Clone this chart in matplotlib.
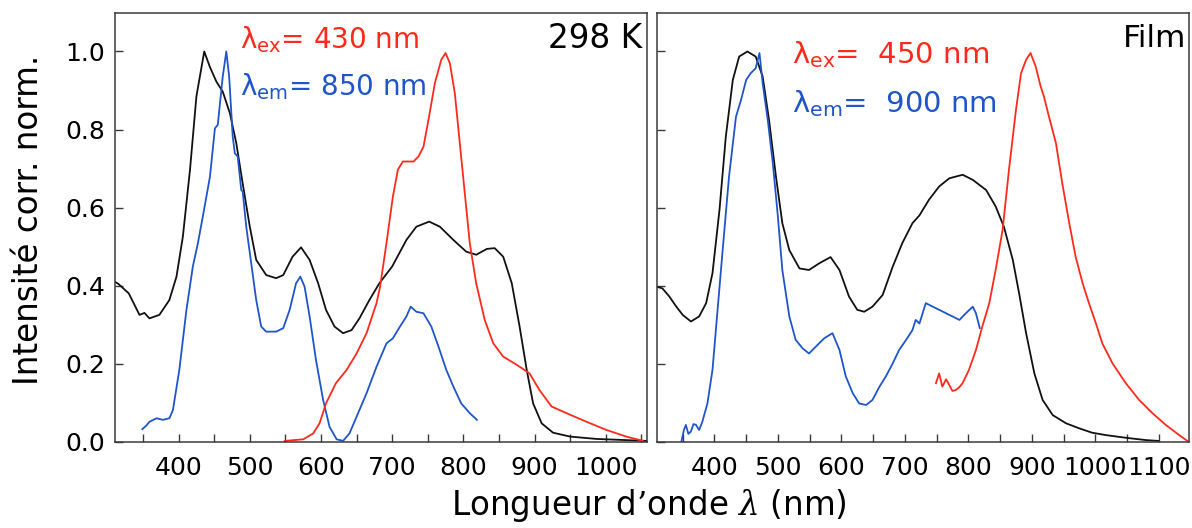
import matplotlib
matplotlib.use('Agg')
import matplotlib.pyplot as plt
from matplotlib.ticker import MultipleLocator, FormatStrFormatter

# ---- 298 K (left panel) ----
left_black_wl = [310, 315, 330, 345, 352, 359, 373, 387, 397, 406, 416, 425, 436, 444, 453,
                 462, 472, 481, 490, 500, 509, 523, 537, 547, 560, 572, 584, 596, 607, 619,
                 631, 643, 654, 668, 682, 700, 720, 734, 752, 767, 786, 804, 818, 833, 844,
                 856, 868, 879, 889, 898, 910, 926, 950, 987, 1057]
left_black_int = [0.41, 0.405, 0.38, 0.325, 0.33, 0.316, 0.325, 0.363, 0.423, 0.526, 0.697,
                  0.885, 1.0, 0.96, 0.923, 0.897, 0.842, 0.765, 0.662, 0.551, 0.466, 0.427,
                  0.419, 0.427, 0.474, 0.498, 0.466, 0.406, 0.338, 0.295, 0.278, 0.286, 0.316,
                  0.363, 0.406, 0.449, 0.517, 0.551, 0.564, 0.551, 0.517, 0.487, 0.479, 0.494,
                  0.496, 0.474, 0.406, 0.295, 0.184, 0.098, 0.047, 0.023, 0.013, 0.007, 0.002]

left_blue_wl = [349, 355, 359, 369, 378, 387, 392, 401, 411, 420, 427, 434, 444, 451, 455,
                462, 467, 471, 476, 479, 483, 488, 490, 495, 502, 509, 516, 523, 537, 547,
                556, 565, 571, 577, 584, 593, 603, 612, 622, 631, 640, 650, 664, 678, 692,
                701, 711, 720, 726, 734, 744, 755, 765, 776, 786, 797, 809, 819]
left_blue_int = [0.032, 0.042, 0.051, 0.06, 0.056, 0.06, 0.081, 0.184, 0.338, 0.449, 0.508,
                 0.577, 0.679, 0.803, 0.812, 0.936, 1.0, 0.936, 0.782, 0.739, 0.731, 0.645,
                 0.641, 0.551, 0.457, 0.363, 0.295, 0.282, 0.282, 0.291, 0.338, 0.406, 0.423,
                 0.397, 0.321, 0.209, 0.107, 0.038, 0.006, 0.002, 0.021, 0.064, 0.124, 0.192,
                 0.252, 0.265, 0.295, 0.321, 0.346, 0.333, 0.329, 0.295, 0.244, 0.184, 0.141,
                 0.098, 0.073, 0.056]

left_red_wl = [549, 575, 589, 598, 607, 621, 636, 650, 664, 678, 683, 692, 701, 708, 715,
               730, 737, 744, 751, 760, 769, 775, 781, 788, 795, 802, 809, 818, 830, 842,
               856, 875, 893, 907, 924, 945, 973, 1001, 1029, 1052]
left_red_int = [0.002, 0.006, 0.021, 0.047, 0.098, 0.15, 0.184, 0.226, 0.278, 0.355, 0.397,
                0.509, 0.628, 0.697, 0.718, 0.718, 0.731, 0.756, 0.825, 0.919, 0.979, 0.996,
                0.97, 0.893, 0.765, 0.637, 0.509, 0.406, 0.312, 0.252, 0.218, 0.197, 0.175,
                0.132, 0.09, 0.073, 0.051, 0.03, 0.013, 0.002]

# ---- Film (right panel) ----
right_black_wl = [309, 318, 329, 340, 350, 363, 376, 387, 397, 408, 418, 429, 439, 452, 465,
                  476, 486, 497, 507, 518, 534, 549, 565, 583, 597, 612, 625, 636, 649, 665,
                  681, 696, 712, 723, 738, 754, 770, 791, 807, 828, 843, 856, 870, 880, 891,
                  904, 917, 933, 954, 975, 995, 1016, 1048, 1080, 1099]
right_black_int = [0.397, 0.393, 0.372, 0.346, 0.325, 0.308, 0.321, 0.355, 0.432, 0.594,
                   0.782, 0.927, 0.987, 1.0, 0.987, 0.936, 0.825, 0.679, 0.56, 0.491, 0.444,
                   0.44, 0.457, 0.473, 0.44, 0.372, 0.338, 0.333, 0.346, 0.376, 0.449, 0.509,
                   0.56, 0.58, 0.62, 0.654, 0.675, 0.684, 0.671, 0.645, 0.603, 0.551, 0.466,
                   0.38, 0.278, 0.175, 0.107, 0.068, 0.047, 0.034, 0.023, 0.017, 0.01, 0.004,
                   0.002]

right_blue_wl = [348, 352, 355, 359, 363, 367, 371, 376, 381, 389, 397, 405, 413, 423, 434,
                 442, 450, 457, 465, 471, 476, 484, 492, 500, 507, 518, 528, 539, 549, 560,
                 573, 586, 597, 607, 618, 628, 639, 649, 660, 670, 681, 691, 702, 712, 717,
                 723, 733, 744, 754, 765, 775, 786, 796, 807, 812, 818]
right_blue_int = [0.0, 0.03, 0.043, 0.02, 0.026, 0.045, 0.043, 0.03, 0.051, 0.098, 0.184,
                  0.338, 0.491, 0.679, 0.833, 0.876, 0.927, 0.944, 0.957, 0.996, 0.919, 0.825,
                  0.714, 0.577, 0.44, 0.321, 0.261, 0.239, 0.226, 0.244, 0.265, 0.278, 0.235,
                  0.167, 0.124, 0.098, 0.094, 0.107, 0.141, 0.167, 0.201, 0.235, 0.261, 0.286,
                  0.312, 0.303, 0.355, 0.346, 0.338, 0.329, 0.321, 0.312, 0.329, 0.346, 0.329,
                  0.291]

right_red_wl = [749, 754, 759, 765, 770, 775, 780, 786, 791, 801, 812, 822, 833, 843, 854,
                864, 875, 883, 891, 898, 906, 914, 919, 927, 938, 948, 959, 969, 980, 990,
                1001, 1011, 1027, 1048, 1069, 1090, 1111, 1132, 1145]
right_red_int = [0.15, 0.175, 0.141, 0.16, 0.145, 0.13, 0.132, 0.14, 0.15, 0.184, 0.235,
                 0.295, 0.355, 0.44, 0.543, 0.697, 0.85, 0.944, 0.979, 0.996, 0.962, 0.91,
                 0.885, 0.833, 0.765, 0.662, 0.56, 0.474, 0.406, 0.355, 0.303, 0.252, 0.201,
                 0.15, 0.107, 0.073, 0.043, 0.017, 0.002]

RED = '#ff2a1c'
BLUE = '#1f55c9'
SPINE = '#3a3a3a'

fig = plt.figure(figsize=(11.92, 5.28), dpi=100)
ax1 = fig.add_axes([0.0961, 0.1635, 0.4467, 0.8114])
ax2 = fig.add_axes([0.5514, 0.1635, 0.4463, 0.8114])


def style(ax, xlim, show_ylabels):
    ax.set_xlim(*xlim)
    ax.set_ylim(0, 1.098)
    ax.xaxis.set_major_locator(MultipleLocator(100))
    ax.xaxis.set_minor_locator(MultipleLocator(50))
    ax.yaxis.set_major_locator(MultipleLocator(0.2))
    ax.yaxis.set_major_formatter(FormatStrFormatter('%.1f'))
    ax.tick_params(which='both', direction='in', length=6, width=1, color=SPINE,
                   top=False, right=False)
    ax.tick_params(axis='x', labelsize=18, pad=10)
    ax.tick_params(axis='y', labelsize=18, pad=7, labelleft=show_ylabels)
    for s in ax.spines.values():
        s.set_color(SPINE)
        s.set_linewidth(1.1)


ax1.plot(left_black_wl, left_black_int, color='#111111', lw=1.3)
ax1.plot(left_blue_wl, left_blue_int, color=BLUE, lw=1.3)
ax1.plot(left_red_wl, left_red_int, color=RED, lw=1.3)
style(ax1, (310, 1058), True)

ax2.plot(right_black_wl, right_black_int, color='#111111', lw=1.3)
ax2.plot(right_blue_wl, right_blue_int, color=BLUE, lw=1.3)
ax2.plot(right_red_wl, right_red_int, color=RED, lw=1.3)
style(ax2, (310, 1148), False)

ax1.text(0.2357, 0.918, r'$\mathrm{\lambda}_{\mathrm{ex}}$= 430 nm', color=RED,
         fontsize=20, transform=ax1.transAxes, va='baseline', ha='left')
ax1.text(0.2357, 0.809, r'$\mathrm{\lambda}_{\mathrm{em}}$= 850 nm', color=BLUE,
         fontsize=20, transform=ax1.transAxes, va='baseline', ha='left')
ax1.text(0.990, 0.918, '298 K', fontsize=23.5, transform=ax1.transAxes,
         va='baseline', ha='right')

ax2.text(0.2526, 0.884, r'$\mathrm{\lambda}_{\mathrm{ex}}$=  450 nm', color=RED,
         fontsize=21, transform=ax2.transAxes, va='baseline', ha='left')
ax2.text(0.2526, 0.769, r'$\mathrm{\lambda}_{\mathrm{em}}$=  900 nm', color=BLUE,
         fontsize=21, transform=ax2.transAxes, va='baseline', ha='left')
ax2.text(0.995, 0.922, 'Film', fontsize=22.5, transform=ax2.transAxes,
         va='baseline', ha='right')

fig.text(0.024, 0.583, 'Intensité corr. norm.', rotation=90, fontsize=23.5,
         ha='center', va='center')
fig.text(0.544, 0.0246, 'Longueur d\u2019onde $\\lambda$ (nm)', fontsize=23.5,
         ha='center', va='baseline', math_fontfamily='dejavuserif')

fig.savefig('out.png', dpi=100)
